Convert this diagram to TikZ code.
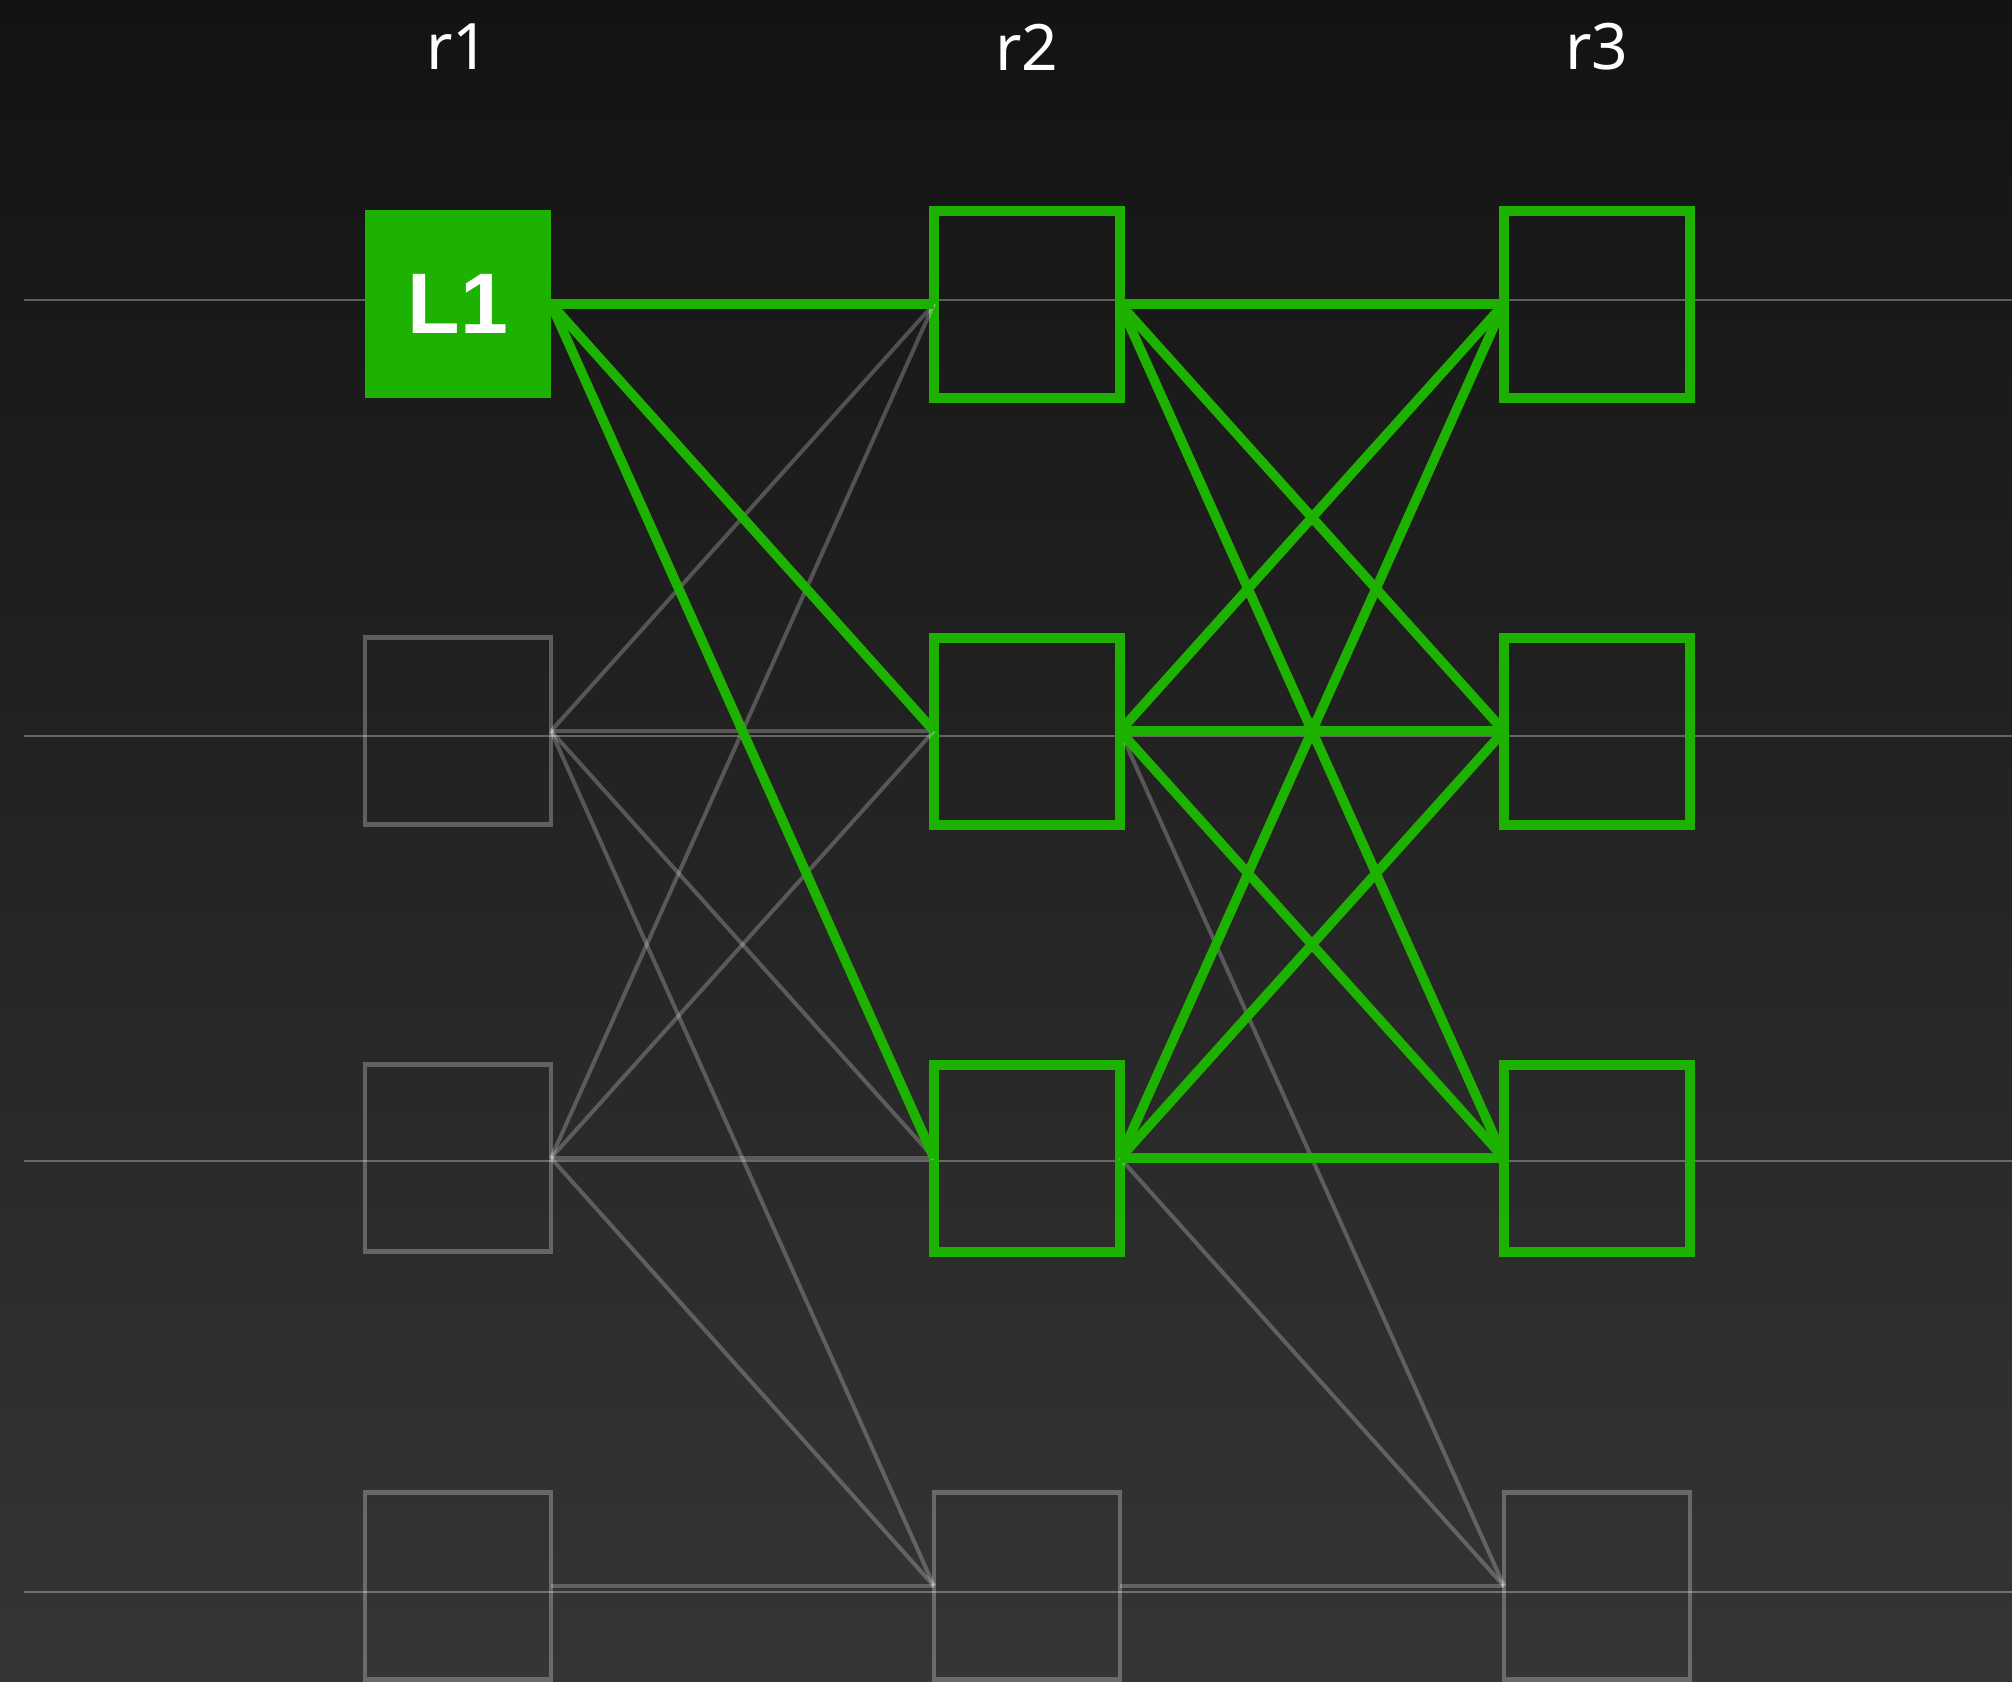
\documentclass[tikz,border=0pt]{standalone}
\usepackage{fontspec}
\setmainfont{Noto Sans}
\newfontfamily\boldfam{Liberation Sans}
\definecolor{grn}{RGB}{29,178,0}
\definecolor{bgtop}{RGB}{19,19,19}
\definecolor{bgbot}{RGB}{53,53,53}
\begin{document}
\begin{tikzpicture}[x=0.5pt,y=-0.5pt,
  guide/.style={draw=white,draw opacity=0.3,line width=1.1pt},
  greyedge/.style={draw=white,draw opacity=0.24,line width=2pt},
  greenedge/.style={draw=grn,line width=4.8pt},
  greybox/.style={draw=white,draw opacity=0.27,line width=2.4pt,minimum width=93pt,minimum height=93.5pt,inner sep=0pt,outer sep=0pt},
  greenbox/.style={draw=grn,line width=5pt,minimum width=93pt,minimum height=93.5pt,inner sep=0pt,outer sep=0pt},
  filledbox/.style={fill=grn,minimum width=93pt,minimum height=94pt,inner sep=0pt,outer sep=0pt,text=white,font=\boldfam\bfseries\fontsize{43pt}{50pt}\selectfont},
  collabel/.style={text=white,font=\fontsize{32pt}{38pt}\selectfont,inner sep=0pt}]
\useasboundingbox (0,0) rectangle (2012,1681);
\shade[top color=bgtop,bottom color=bgbot] (0,0) rectangle (2012,1681);
% guide lines
\foreach \y [count=\i] in {300,736,1161,1592}{
  \coordinate (gs\i) at (24,\y);
  \coordinate (ge\i) at (2012,\y);
  \draw[guide] (gs\i) -- (ge\i);
}
% column labels
\node[collabel] (lab1) at (458,47) {r1};
\node[collabel] (lab2) at (1027,47) {r2};
\node[collabel] (lab3) at (1597,47) {r3};
% boxes
\node[filledbox] (A1) at (458,304) {L1};
\node[greybox] (A2) at (458,731) {};
\node[greybox] (A3) at (458,1158) {};
\node[greybox] (A4) at (458,1586) {};
\node[greenbox] (B1) at (1027,304) {};
\node[greenbox] (B2) at (1027,731) {};
\node[greenbox] (B3) at (1027,1158) {};
\node[greybox] (B4) at (1027,1586) {};
\node[greenbox] (C1) at (1597,304) {};
\node[greenbox] (C2) at (1597,731) {};
\node[greenbox] (C3) at (1597,1158) {};
\node[greybox] (C4) at (1597,1586) {};
% grey connectors
\foreach \s/\t in {A2/B1,A2/B2,A2/B3,A2/B4,A3/B1,A3/B2,A3/B3,A3/B4,A4/B4,B2/C4,B3/C4,B4/C4}{
  \draw[greyedge] (\s.east) -- (\t.west);
}
% green connectors
\foreach \s/\t in {A1/B1,A1/B2,A1/B3,B1/C1,B1/C2,B1/C3,B2/C1,B2/C2,B2/C3,B3/C1,B3/C2,B3/C3}{
  \draw[greenedge] (\s.east) -- (\t.west);
}
\end{tikzpicture}
\end{document}
